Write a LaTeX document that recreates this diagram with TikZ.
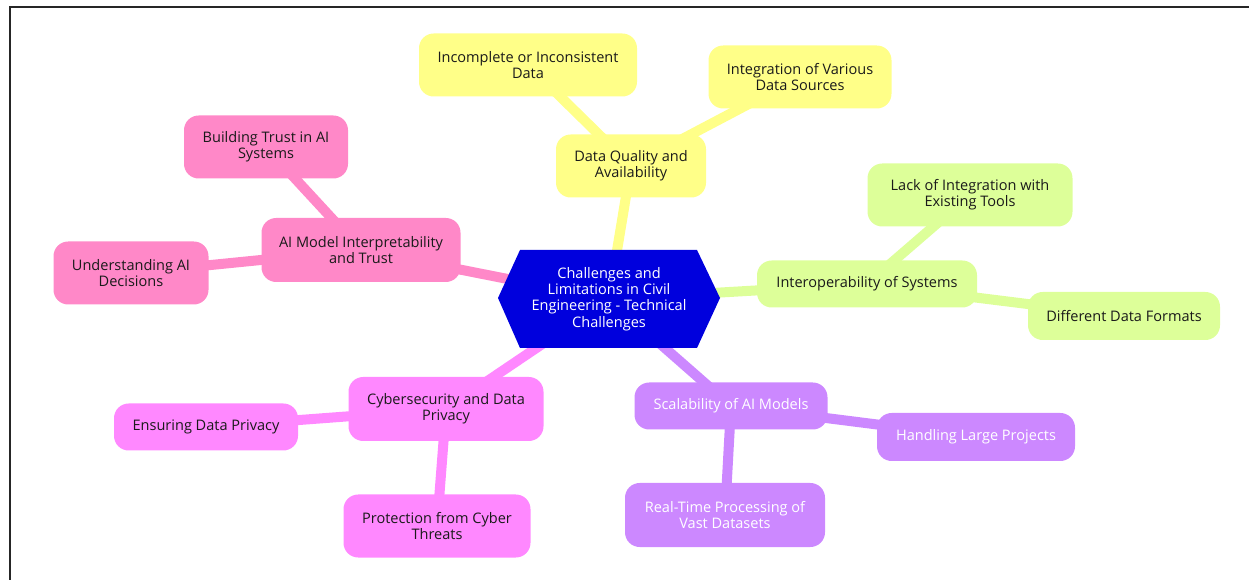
\documentclass[tikz,border=0pt]{standalone}
\usepackage{fontspec}
\setmainfont{Open Sans}
\usetikzlibrary{backgrounds}
\definecolor{hubblue}{HTML}{0000DD}
\definecolor{dataY}{HTML}{FFFF88}
\definecolor{interG}{HTML}{DDFF99}
\definecolor{scaleP}{HTML}{CC88FF}
\definecolor{cyberM}{HTML}{FF88FF}
\definecolor{trustK}{HTML}{FF88C8}
\definecolor{inkdark}{HTML}{1A1A1A}
\tikzset{
  labelfont/.style={font=\fontsize{10.9}{12.2}\selectfont},
  topic/.style={rounded corners=11pt, inner sep=0pt, align=center, text=inkdark, labelfont},
  sz/.style n args={2}{minimum width=#1*0.75pt, minimum height=#2*0.75pt},
  link/.style={line width=7.5pt},
}
\begin{document}
\begin{tikzpicture}[x=0.75pt, y=-0.75pt]
\useasboundingbox (0,0) rectangle (1249,580);
% frame
\draw[line width=1.5pt, black!85] (9.5,580) -- (9.5,7) -- (1249,7);

% hub
\node[align=center, text=white, labelfont, inner sep=0pt]
  (hub) at (609,299) {Challenges and\\Limitations in Civil\\Engineering - Technical\\Challenges};

% data quality branch
\node[topic, fill=dataY, sz={150}{63}] (dq) at (631,166) {Data Quality and\\Availability};
\node[topic, fill=dataY, sz={218}{63}] (dq1) at (528,65) {Incomplete or Inconsistent\\Data};
\node[topic, fill=dataY, sz={183}{63}] (dq2) at (800,77) {Integration of Various\\Data Sources};

% interoperability branch
\node[topic, fill=interG, sz={220}{47}] (io) at (867,284) {Interoperability of Systems};
\node[topic, fill=interG, sz={205}{63}] (io1) at (970,195) {Lack of Integration with\\Existing Tools};
\node[topic, fill=interG, sz={192}{48}] (io2) at (1124,316) {Different Data Formats};

% scalability branch
\node[topic, fill=scaleP, text=white, sz={193}{47}] (sc) at (731,406) {Scalability of AI Models};
\node[topic, fill=scaleP, text=white, sz={198}{48}] (sc1) at (976,437) {Handling Large Projects};
\node[topic, fill=scaleP, text=white, sz={200}{64}] (sc2) at (725,515) {Real-Time Processing of\\Vast Datasets};

% cybersecurity branch
\node[topic, fill=cyberM, sz={195}{64}] (cy) at (446,409) {Cybersecurity and Data\\Privacy};
\node[topic, fill=cyberM, sz={184}{47}] (cy1) at (206,427) {Ensuring Data Privacy};
\node[topic, fill=cyberM, sz={187}{63}] (cy2) at (437,526) {Protection from Cyber\\Threats};

% interpretability branch
\node[topic, fill=trustK, sz={199}{64}] (tr) at (361,250) {AI Model Interpretability\\and Trust};
\node[topic, fill=trustK, sz={164}{63}] (tr1) at (266,147) {Building Trust in AI\\Systems};
\node[topic, fill=trustK, sz={155}{63}] (tr2) at (131,273) {Understanding AI\\Decisions};

\begin{pgfonlayer}{background}
  \draw[link, dataY] (hub.center) -- (dq.center);
  \draw[link, dataY] (dq.center) -- (dq1.center);
  \draw[link, dataY] (dq.center) -- (dq2.center);
  \draw[link, interG] (hub.center) -- (io.center);
  \draw[link, interG] (io.center) -- (io1.center);
  \draw[link, interG] (io.center) -- (io2.center);
  \draw[link, scaleP] (hub.center) -- (sc.center);
  \draw[link, scaleP] (sc.center) -- (sc1.center);
  \draw[link, scaleP] (sc.center) -- (sc2.center);
  \draw[link, cyberM] (hub.center) -- (cy.center);
  \draw[link, cyberM] (cy.center) -- (cy1.center);
  \draw[link, cyberM] (cy.center) -- (cy2.center);
  \draw[link, trustK] (hub.center) -- (tr.center);
  \draw[link, trustK] (tr.center) -- (tr1.center);
  \draw[link, trustK] (tr.center) -- (tr2.center);
  % hexagonal hub plate
  \fill[hubblue] (498,298) -- (520,250) -- (697,250) -- (720,298) -- (697,348) -- (520,348) -- cycle;
\end{pgfonlayer}
\end{tikzpicture}
\end{document}
